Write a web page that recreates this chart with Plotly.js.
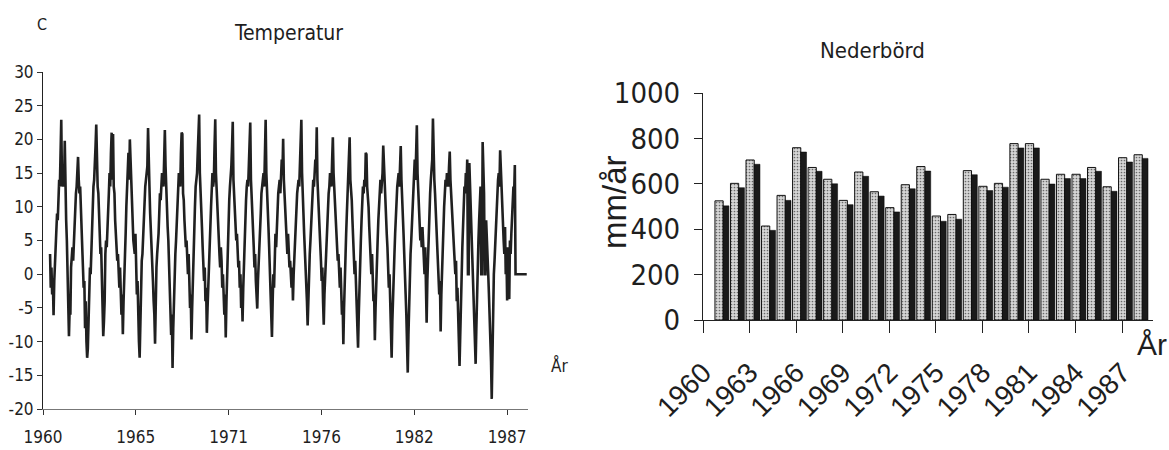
<!DOCTYPE html>
<html>
<head>
<meta charset="utf-8">
<script src="https://cdn.plot.ly/plotly-3.0.1.min.js"></script>
<style>html,body{margin:0;padding:0;background:#fff;}#chart{width:1169px;height:450px;}</style>
</head>
<body>
<div id="chart"></div>
<script>
// ---------- DATA ----------
// Temperature (°C), semi-monthly readings, one row per season block
const temperature = [
  3,-2,1,-3,-1,-6.1,-1,2,5,7,9,8,12,14,13,17,22.9,14,13,14,13,19.8,12,8,
  5,0,-5,-9.2,-5,-6,1,4,4,2,5,8,10,12,13,15,17.4,14,12,13,9,6,3,1,
  -2,-1,-8,-4,-10,-12.4,-11,-5,-1,1,0,4,8,10,13,14,16,19,22.2,14,13,12,8,5,
  3,4,-2,-5,-9.2,-7,-4,3,5,4,8,10,12,15,13,18,21.0,14,20.8,13,12,8,5,4,
  2,3,0,-2,1,-4,-6,-3,-8.9,-4,1,3,6,10,13,14,18,14,20.0,17,13,12,8,5,
  4,3,6,2,-3,-1,-7,-10,-12.4,-6,-1,2,3,6,9,12,13,14,15,16,21.7,14,13,9,
  7,5,3,-1,-4,-6,-10.3,-3,1,3,4,6,9,12,11,13,15,14,13,17,21.4,16,12,10,
  7,5,2,0,-5,-9,-6,-13.9,-8,-3,1,3,5,8,12,13,15,14,13,18,21.0,20.8,12,11,
  8,6,4,5,2,0,3,-1,-5,-3,-9.7,-5,0,4,7,10,13,14,15,18,20,23.7,15,13,
  9,7,4,2,-1,1,-4,-2,-8.7,-5,-1,2,4,7,10,13,15,13,14,19,23.0,15,12,10,
  8,5,3,1,4,2,-2,0,-4,-6,-3,-9.4,-4,1,4,7,11,13,14,16,19,22.6,14,12,
  10,7,5,6,3,1,2,-2,0,-5,-3,-7.0,-2,2,5,8,11,13,14,13,16,20,22.5,14,
  12,9,6,4,1,3,-1,-3,-5.1,-1,1,3,6,9,12,13,14,15,13,18,22.9,15,13,11,
  7,4,1,-2,-5,-9.3,-4,0,-2,3,6,4,8,10,12,13,14,12,16,17,15,20.1,14,12,
  9,7,5,3,6,4,1,2,0,-2,1,-3.9,0,3,5,8,10,12,13,14,13,16,19,22.9,
  15,13,9,6,4,1,-2,-4,-7.6,-3,0,3,5,8,11,13,14,13,15,17,16,21.8,14,12,
  9,6,4,2,-1,1,-4,-7.5,-3,0,2,5,7,10,12,13,15,14,13,17,20.3,15,13,10,
  8,6,4,2,3,0,-2,1,-3,-6,-4,-10.4,-5,0,3,6,9,12,13,15,20.3,14,13,11,
  8,5,3,0,2,-2,-4,-7,-10.9,-6,-1,2,5,8,11,13,12,14,13,18.0,17.8,13,12,10,
  7,5,2,0,3,-1,-4,-3,-9.8,-5,0,2,5,8,11,13,14,12,13,15,19.1,16,13,11,
  8,6,4,1,-2,0,-5,-8,-12.4,-7,-2,1,3,6,9,12,13,14,15,13,16,19.0,14,12,
  9,6,3,1,-3,-6,-10,-14.6,-9,-3,1,3,5,8,11,13,15,17,14,19,22.1,15,13,10,
  8,5,6,4,7,5,2,0,4,-2,-7.2,-1,3,6,9,12,14,15,17,23.1,16,14,12,9,
  7,5,2,0,-3,-1,-8.5,-3,1,4,7,10,12,14,13,15,14,13,16,18.2,14,12,9,6,
  6,3,0,0,2,-4,-2,-8,-10,-13.6,-9,-3,1,4,7,10,13,12,15,13,17.0,0,0,16.5,
  13,9,5,2,-1,-4,-6,-10,-13.3,-8,-2,2,5,8,11,13,0,0,19.6,14,12,0,0,8,
  6,3,0,-3,-6,-11,-13,-18.5,-11,-5,0,2,5,8,11,13,14,15,13,18.4,15,13,10,8,
  5,3,7,0,3,-3.9,4,2,-3.7,5,3,6,8,11,13,12,16.2,0,0,0,0,0,0,0,
  0,0,0,0,0,0,0,0,0,0
];
const tempTicks = [30, 25, 20, 15, 10, 5, 0, -5, -10, -15, -20];
const tempYearLabels = ['1960', '1965', '1971', '1976', '1982', '1987'];

// Precipitation (mm/år)
const precipYears = [1960,1961,1962,1963,1964,1965,1966,1967,1968,1969,1970,1971,1972,1973,
                     1974,1975,1976,1977,1978,1979,1980,1981,1982,1983,1984,1985,1986,1987];
const precipLight = [525,602,705,414,549,759,672,620,527,652,565,495,596,676,
                     458,465,658,589,602,777,777,620,642,642,672,587,715,728];
const precipDark  = [503,583,686,395,527,740,655,600,508,633,546,476,578,656,
                     435,444,640,570,585,758,758,599,623,623,655,567,696,712];
const precipTickYears = [1960,1963,1966,1969,1972,1975,1978,1981,1984,1987];
const precipTicks = [0, 200, 400, 600, 800, 1000];

// ---------- STYLE ----------
const NARROW = '"DejaVu Sans Condensed", "Liberation Sans Narrow", "Liberation Sans", sans-serif';
const REG = '"Liberation Sans", Arial, sans-serif';
const INK = '#1e1e1e';
const W = 1169, H = 450;
const px = v => v / W, py = v => 1 - v / H;

// left axis geometry (index units of the semi-monthly series)
const startOffset = -10.08, tickStep = 132.6;
const tempTickVals = tempYearLabels.map((_, k) => startOffset + k * tickStep);

const traces = [
  {
    type: 'scatter', mode: 'lines',
    y: temperature,
    line: {color: '#202020', width: 2.6},
    xaxis: 'x', yaxis: 'y', hoverinfo: 'skip'
  },
  {
    type: 'bar', x: precipYears, y: precipLight,
    offset: 0.77, width: 0.53,
    marker: {color: '#c4c4c4', line: {color: '#111', width: 1},
             pattern: {shape: '.', fgcolor: '#6a6a6a', bgcolor: '#d6d6d6', size: 3, solidity: 0.25}},
    xaxis: 'x2', yaxis: 'y2', hoverinfo: 'skip'
  },
  {
    type: 'bar', x: precipYears, y: precipDark,
    offset: 1.29, width: 0.38,
    marker: {color: '#1a1a1a', line: {color: '#000', width: 0.5}},
    xaxis: 'x2', yaxis: 'y2', hoverinfo: 'skip'
  }
];

function label(text, x, y, font, extra) {
  return Object.assign({
    text: text, xref: 'paper', yref: 'paper', x: px(x), y: py(y),
    xanchor: 'center', yanchor: 'middle', showarrow: false, font: font
  }, extra || {});
}

const layout = {
  width: W, height: H,
  margin: {l: 0, r: 0, t: 0, b: 0},
  paper_bgcolor: '#fff', plot_bgcolor: 'rgba(0,0,0,0)',
  showlegend: false,
  barmode: 'overlay',
  xaxis: {
    domain: [px(43), px(528)], range: [startOffset, 682.8],
    showgrid: false, zeroline: false, showline: true, linecolor: '#777', linewidth: 1,
    ticks: 'outside', ticklen: 5, tickcolor: '#333',
    tickvals: tempTickVals, ticktext: tempYearLabels,
    tickfont: {family: NARROW, size: 17, color: INK}, ticklabelstandoff: 8,
    anchor: 'y'
  },
  yaxis: {
    domain: [py(409), py(72)], range: [-20, 30],
    showgrid: false, zeroline: false, showline: true, linecolor: '#222', linewidth: 1,
    ticks: 'outside', ticklen: 5, tickcolor: '#333',
    tickvals: tempTicks, ticktext: tempTicks.map(String),
    tickfont: {family: NARROW, size: 17, color: INK}, ticklabelstandoff: 0,
    anchor: 'x'
  },
  xaxis2: {
    domain: [px(703), px(1153)], range: [1960, 1988.99],
    showgrid: false, zeroline: false, showline: true, linecolor: '#222', linewidth: 1,
    ticks: 'outside', ticklen: 12, tickcolor: '#222',
    tickvals: precipTickYears, ticktext: precipTickYears.map(String),
    tickangle: -45,
    tickfont: {family: REG, size: 28, color: INK}, ticklabelstandoff: 12,
    anchor: 'y2'
  },
  yaxis2: {
    domain: [py(320), py(93)], range: [0, 1000],
    showgrid: false, zeroline: false, showline: true, linecolor: '#222', linewidth: 1,
    ticks: 'outside', ticklen: 8, tickcolor: '#222',
    tickvals: precipTicks, ticktext: precipTicks.map(String),
    tickfont: {family: NARROW, size: 29, color: INK}, ticklabelstandoff: 8,
    anchor: 'x2'
  },
  annotations: [
    label('C', 42, 24, {family: NARROW, size: 16, color: INK}),
    label('Temperatur', 288, 33, {family: NARROW, size: 21, color: INK}),
    label('År', 559, 365, {family: NARROW, size: 17, color: INK}),
    label('Nederbörd', 872, 50, {family: NARROW, size: 22, color: INK}),
    label('mm/år', 614, 202, {family: REG, size: 33, color: INK}, {textangle: -90}),
    label('År', 1152, 344, {family: REG, size: 30, color: INK})
  ]
};

Plotly.newPlot('chart', traces, layout, {displayModeBar: false, staticPlot: true});
</script>
</body>
</html>
